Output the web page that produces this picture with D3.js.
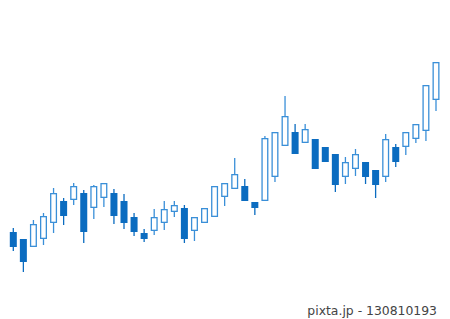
<!DOCTYPE html>
<html>
<head>
<meta charset="utf-8">
<script src="https://cdn.jsdelivr.net/npm/d3@7"></script>
<style>
  html, body { margin: 0; padding: 0; background: #fff; }
  svg { display: block; }
</style>
</head>
<body>
<svg id="chart" width="450" height="319"></svg>
<script>
// candle values (arbitrary price units)
const opens  = [48, 41, 33, 41, 57, 79, 80, 87, 72, 82, 87, 79, 63, 47, 49, 57, 68, 72, 49, 57, 63, 83,
                91, 94, 78, 79, 103, 134, 148, 137, 141, 133, 126, 103, 111, 118, 110, 103, 133, 133, 141, 149, 180];
const closes = [33, 18, 56, 64, 87, 64, 94, 48, 94, 97, 64, 57, 48, 41, 63, 71, 75, 41, 63, 72, 94, 97,
                106, 79, 72, 142, 148, 164, 126, 151, 111, 118, 95, 118, 126, 103, 95, 141, 118, 148, 156, 195, 218];
const highs  = [52, 41, 60, 67, 92, 82, 97, 90, 95, 97, 91, 86, 67, 51, 71, 79, 79, 75, 63, 72, 94, 97,
                122, 101, 78, 144, 148, 184, 156, 156, 141, 133, 126, 123, 131, 118, 110, 146, 136, 148, 156, 195, 218];
const lows   = [29, 8, 33, 35, 47, 55, 75, 37, 61, 73, 56, 51, 44, 38, 45, 50, 63, 37, 39, 57, 63, 74,
                91, 79, 65, 79, 98, 134, 126, 137, 111, 118, 88, 96, 104, 96, 82, 98, 113, 125, 137, 139, 169];
const footerText = 'pixta.jp - 130810193';

const candles = opens.map((o, i) => ({
  i, open: o, close: closes[i], high: highs[i], low: lows[i]
}));

const svg = d3.select('#chart');

const x = d3.scaleLinear()
  .domain([0, candles.length - 1])
  .range([13.3, 436]);

const y = d3.scaleLinear()
  .domain([0, 220])
  .range([280, 60]);

const upColor = '#3a8fd8';
const downColor = '#0b6cc0';
const bodyW = 7;
const isUp = d => d.close >= d.open;

const candle = svg.append('g')
  .selectAll('.candle')
  .data(candles)
  .join('g')
  .attr('class', 'candle');

// wicks
candle.append('line')
  .attr('x1', d => x(d.i))
  .attr('x2', d => x(d.i))
  .attr('y1', d => y(d.high))
  .attr('y2', d => y(d.low))
  .attr('stroke', d => isUp(d) ? upColor : downColor)
  .attr('stroke-width', 1.3);

// bodies: hollow when up, filled when down
candle.append('rect')
  .attr('x', d => isUp(d) ? x(d.i) - (bodyW - 1.3) / 2 : x(d.i) - bodyW / 2)
  .attr('width', d => isUp(d) ? bodyW - 1.3 : bodyW)
  .attr('y', d => y(Math.max(d.open, d.close)) + (isUp(d) ? 0.65 : 0))
  .attr('height', d => Math.abs(y(d.open) - y(d.close)) - (isUp(d) ? 1.3 : 0))
  .attr('fill', d => isUp(d) ? '#fff' : downColor)
  .attr('stroke', d => isUp(d) ? upColor : 'none')
  .attr('stroke-width', 1.3);

svg.append('text')
  .attr('x', 437)
  .attr('y', 314.5)
  .attr('text-anchor', 'end')
  .attr('font-family', '"DejaVu Sans", sans-serif')
  .attr('font-size', 12.4)
  .attr('fill', '#444')
  .text(footerText);
</script>
</body>
</html>
